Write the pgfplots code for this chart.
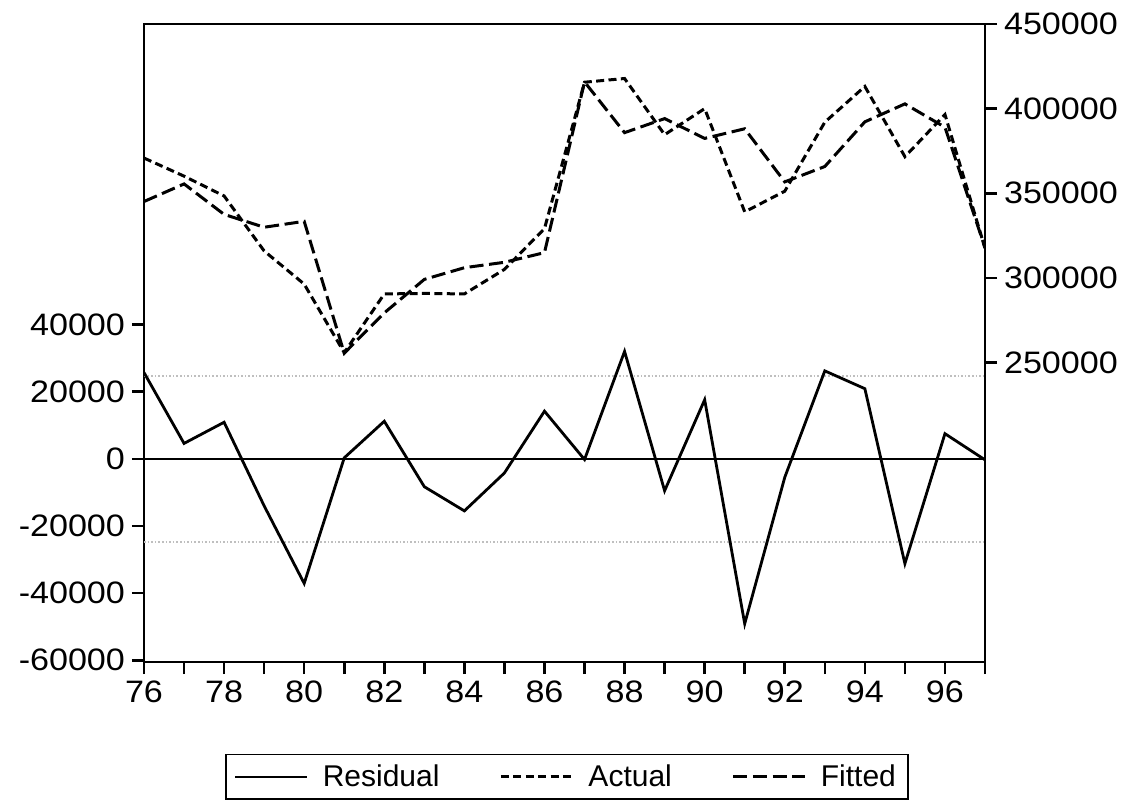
\documentclass[border=0pt]{standalone}
\usepackage{pgfplots}
\usepackage{pgfplotstable}
\pgfplotsset{compat=1.18}
\usepackage{fontspec}
\setmainfont{Liberation Sans}
\newfontfamily\tickfont{Liberation Sans}[FakeStretch=1.1]
\pgfplotstableread{
year resid actual fitted
76 25700 370800 345100
77 4600 360100 355500
78 10900 348400 337500
79 -14000 315900 329900
80 -37100 296300 333400
81 300 255800 255500
82 11200 290500 279300
83 -8300 290800 299100
84 -15500 290500 306000
85 -4200 305000 309200
86 14200 329100 314900
87 -200 415600 415800
88 32000 417800 385800
89 -9500 384600 394100
90 17600 400000 382400
91 -49100 339000 388100
92 -5500 351200 356700
93 26200 392000 365800
94 20900 413100 392200
95 -31200 371600 402800
96 7500 396500 389000
97 -300 317500 317800
}\datatable
\begin{document}
\begin{tikzpicture}
\path[use as bounding box] (-72pt,-71.5pt) rectangle (495.5pt,331pt);
\pgfplotsset{
  every axis/.append style={
    scale only axis, width=420.5pt, height=319pt,
    at={(0pt,0pt)}, anchor=south west,
    xmin=76, xmax=97,
    tick align=outside, major tick length=6pt,
    axis line style={line width=1.3pt},
    major tick style={black, line width=1.3pt},
    tick label style={font=\tickfont\fontsize{15.5pt}{18pt}\selectfont},
    scaled y ticks=false,
  }
}
\begin{axis}[
  ymin=-60500, ymax=129500,
  xtick={76,...,97},
  xticklabels={76,,78,,80,,82,,84,,86,,88,,90,,92,,94,,96,},
  xtick pos=bottom, ytick pos=left,
  ytick={-60000,-40000,-20000,0,20000,40000},
  yticklabels={-60000,-40000,-20000,0,20000,40000},
]
\addplot[black, line width=1.1pt] coordinates {(76,0) (97,0)};
\addplot[gray!50, densely dotted, line width=0.8pt] coordinates {(76,24700) (97,24700)};
\addplot[gray!50, densely dotted, line width=0.8pt] coordinates {(76,-24700) (97,-24700)};
\addplot[black, line width=1.4pt] table[x=year, y=resid] {\datatable};
\end{axis}
\begin{axis}[
  ymin=73000, ymax=450000,
  hide x axis,
  axis y line*=right,
  ytick={250000,300000,350000,400000,450000},
  yticklabels={250000,300000,350000,400000,450000},
  legend columns=3,
  legend style={at={(0.503,-0.180)}, anchor=center, draw=black, line width=0.9pt,
    font=\fontsize{15pt}{18pt}\selectfont, inner xsep=4pt, inner ysep=3pt,
    /tikz/every odd column/.append style={column sep=5pt},
    /tikz/every even column/.append style={column sep=28pt}},
  legend image code/.code={\draw[#1] (0pt,0pt) -- (36pt,0pt);},
]
\addlegendimage{black, line width=1.3pt}
\addlegendentry{Residual}
\addplot[black, line width=1.5pt, dash pattern=on 4pt off 2.2pt] table[x=year, y=actual] {\datatable};
\addlegendentry{Actual}
\addplot[black, line width=1.5pt, dash pattern=on 7pt off 2.8pt] table[x=year, y=fitted] {\datatable};
\addlegendentry{Fitted}
\end{axis}
\end{tikzpicture}
\end{document}
